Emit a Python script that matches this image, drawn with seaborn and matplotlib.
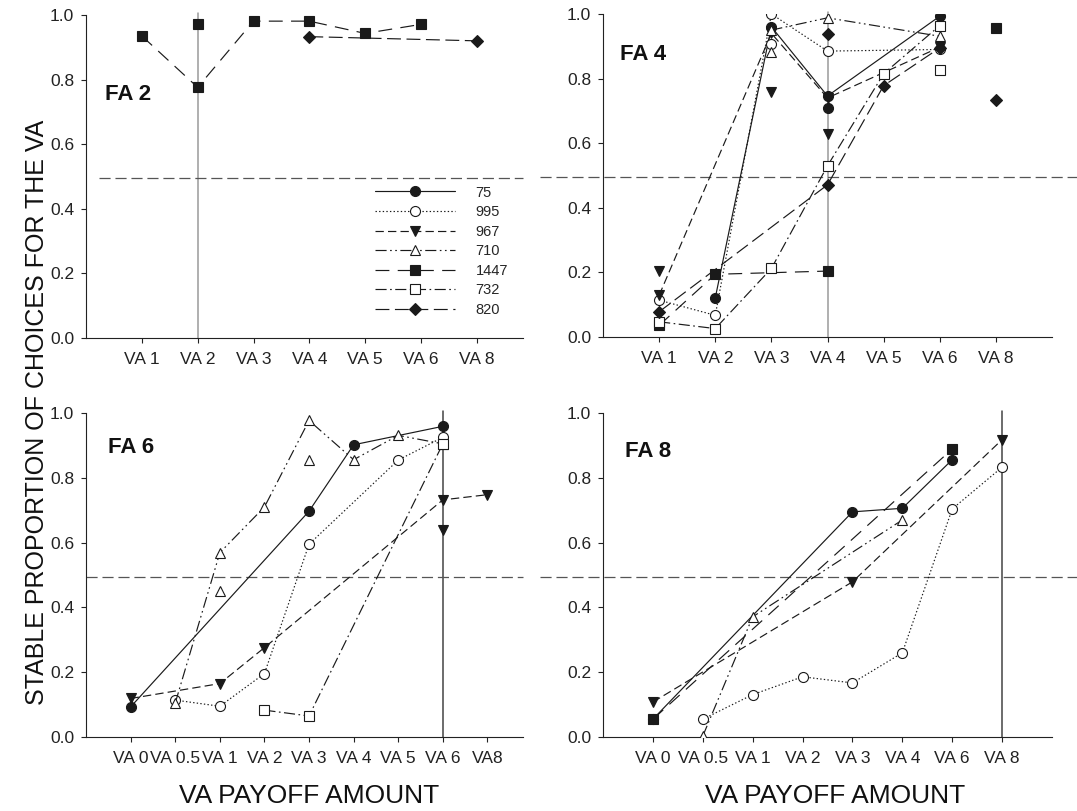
import numpy as np
import seaborn as sns
import matplotlib.pyplot as plt
from matplotlib.lines import Line2D

nan = np.nan

series_names = ['75', '995', '967', '710', '1447', '732', '820']

# FA 2 panel
fa2_cats = ['VA 1', 'VA 2', 'VA 3', 'VA 4', 'VA 5', 'VA 6', 'VA 8']
fa2_lines = {
    '1447': [0.935, 0.776, 0.981, 0.981, 0.943, 0.971, nan],
    '820':  [nan, nan, nan, 0.933, nan, nan, 0.920],
}
fa2_extra = [('1447', 'VA 2', 0.971)]

# FA 4 panel
fa4_cats = ['VA 1', 'VA 2', 'VA 3', 'VA 4', 'VA 5', 'VA 6', 'VA 8']
fa4_lines = {
    '75':   [nan, 0.121, 0.960, 0.746, nan, 0.993, nan],
    '995':  [0.114, 0.067, 1.000, 0.885, nan, 0.890, nan],
    '967':  [0.129, nan, 0.940, 0.740, nan, 0.897, nan],
    '710':  [nan, nan, 0.950, 0.988, nan, 0.931, nan],
    '1447': [0.036, 0.194, nan, 0.204, nan, nan, nan],
    '732':  [0.047, 0.026, 0.212, 0.530, 0.815, 0.964, nan],
    '820':  [0.078, nan, nan, 0.471, 0.778, 0.895, nan],
}
fa4_extra = [('75', 'VA 4', 0.709), ('995', 'VA 3', 0.907),
             ('967', 'VA 1', 0.204), ('967', 'VA 3', 0.759), ('967', 'VA 4', 0.628),
             ('710', 'VA 3', 0.882), ('1447', 'VA 8', 0.955),
             ('732', 'VA 6', 0.825), ('820', 'VA 4', 0.938), ('820', 'VA 8', 0.734)]

# FA 6 panel
fa6_cats = ['VA 0', 'VA 0.5', 'VA 1', 'VA 2', 'VA 3', 'VA 4', 'VA 5', 'VA 6', 'VA8']
fa6_lines = {
    '75':  [0.093, nan, nan, nan, 0.697, 0.902, nan, 0.959, nan],
    '995': [nan, 0.114, 0.095, 0.196, 0.595, nan, 0.855, 0.925, nan],
    '967': [0.119, nan, 0.165, 0.276, nan, nan, nan, 0.732, 0.748],
    '710': [nan, 0.105, 0.569, 0.710, 0.977, 0.856, 0.931, 0.905, nan],
    '732': [nan, nan, nan, 0.083, 0.065, nan, nan, 0.905, nan],
}
fa6_extra = [('967', 'VA 6', 0.639), ('710', 'VA 1', 0.450), ('710', 'VA 3', 0.856)]

# FA 8 panel
fa8_cats = ['VA 0', 'VA 0.5', 'VA 1', 'VA 2', 'VA 3', 'VA 4', 'VA 6', 'VA 8']
fa8_lines = {
    '75':   [0.055, nan, nan, nan, 0.695, 0.706, 0.856, nan],
    '995':  [nan, 0.055, 0.131, 0.186, 0.167, 0.260, 0.704, 0.833],
    '967':  [0.108, nan, nan, nan, 0.479, nan, nan, 0.918],
    '710':  [nan, 0.003, 0.371, nan, nan, 0.670, nan, nan],
    '1447': [0.055, nan, nan, nan, nan, nan, 0.889, nan],
}
fa8_extra = []

criterion = 0.495

# line style, marker, face colour, marker size per subject
styles = {
    '75':   ('-', 'o', 'k', 7.2),
    '995':  ((0, (1, 1.6)), 'o', 'white', 7.2),
    '967':  ((0, (6, 3)), 'v', 'k', 7.6),
    '710':  ((0, (8, 2.5, 1.2, 2.5, 1.2, 2.5)), '^', 'white', 7.6),
    '1447': ((0, (10, 6)), 's', 'k', 6.7),
    '732':  ((0, (8, 2.5, 1.2, 2.5)), 's', 'white', 6.7),
    '820':  ((0, (10, 4)), 'D', 'k', 6.2),
}

sns.set_theme(style='ticks')
plt.rcParams['font.family'] = ['Liberation Sans', 'DejaVu Sans']
plt.rcParams['lines.scale_dashes'] = False

fig = plt.figure(figsize=(10.77, 8.11), dpi=100)

panels = [
    # name, cats, lines, extra, rect, xlim, vline idx, vline colour, hline span, title pos
    ('FA 2', fa2_cats, fa2_lines, fa2_extra, [0.0799, 0.5832, 0.4058, 0.3983], (-1, 6.83), 1, '#9a9a9a', (0.03, 1.0), (0.043, 0.753)),
    ('FA 4', fa4_cats, fa4_lines, fa4_extra, [0.5599, 0.5845, 0.4169, 0.3983], (-1, 7), 3, '#9a9a9a', (-0.14, 1.056), (0.038, 0.875)),
    ('FA 6', fa6_cats, fa6_lines, fa6_extra, [0.0799, 0.0912, 0.4058, 0.3995], (-1, 8.8), 7, '#444444', (0.0, 1.0), (0.05, 0.894)),
    ('FA 8', fa8_cats, fa8_lines, fa8_extra, [0.5599, 0.0912, 0.4169, 0.3995], (-1, 8), 7, '#444444', (-0.14, 1.056), (0.049, 0.881)),
]

for name, cats, lines, extra, rect, xlim, vidx, vcol, hspan, tpos in panels:
    ax = fig.add_axes(rect)
    pos = np.arange(len(cats))

    ax.axvline(vidx, ymin=0, ymax=1.005, color=vcol, lw=1.1, clip_on=False, zorder=1)
    ax.axhline(criterion, xmin=hspan[0], xmax=hspan[1], color='#555555', lw=0.9,
               linestyle=(0, (8, 3.5)), clip_on=False, zorder=1)

    for s in series_names:
        if s not in lines:
            continue
        ys = np.array(lines[s], dtype=float)
        ok = ~np.isnan(ys)
        ls, mk, fc, ms = styles[s]
        sns.lineplot(x=pos[ok], y=ys[ok], ax=ax, color='k', lw=0.85, linestyle=ls,
                     marker=mk, markersize=ms, markerfacecolor=fc, markeredgecolor='k',
                     markeredgewidth=0.8, sort=False, estimator=None, legend=False, zorder=3)

    for s, cat, val in extra:
        ls, mk, fc, ms = styles[s]
        sns.lineplot(x=[cats.index(cat)], y=[val], ax=ax, color='k', linestyle='none',
                     marker=mk, markersize=ms, markerfacecolor=fc, markeredgecolor='k',
                     markeredgewidth=0.8, estimator=None, legend=False, zorder=3)

    ax.set_xlim(*xlim)
    ax.set_ylim(0, 1)
    ax.set_xticks(pos)
    ax.set_xticklabels(cats)
    ax.set_yticks(np.arange(0, 1.01, 0.2))
    ax.set_yticklabels([f'{v:.1f}' for v in np.arange(0, 1.01, 0.2)])
    ax.tick_params(axis='both', direction='out', length=3.5, width=0.8, labelsize=12.5,
                   colors='#222222')
    ax.tick_params(axis='x', pad=6.5)
    ax.tick_params(axis='y', pad=5)
    ax.set_xlabel('')
    ax.set_ylabel('')
    for sp in ['left', 'bottom']:
        ax.spines[sp].set_linewidth(0.8)
        ax.spines[sp].set_color('#222222')
    sns.despine(ax=ax)
    ax.patch.set_alpha(0)

    ax.text(tpos[0], tpos[1], name, transform=ax.transAxes, fontsize=16,
            fontweight='bold', va='center', ha='left', color='#111111')

    if name == 'FA 2':
        handles = []
        for s in series_names:
            ls, mk, fc, ms = styles[s]
            handles.append(Line2D([], [], color='k', lw=0.85, linestyle=ls, marker=mk,
                                  markersize=ms, markerfacecolor=fc, markeredgecolor='k',
                                  markeredgewidth=0.8))
        ax.legend(handles, series_names, loc='upper left', bbox_to_anchor=(0.661, 0.472),
                  frameon=False, borderpad=0, borderaxespad=0, fontsize=10.5,
                  handlelength=5.5, handletextpad=1.4, labelspacing=0.38, numpoints=1)

fig.text(0.034, 0.492, 'STABLE PROPORTION OF CHOICES FOR THE VA', rotation=90,
         ha='center', va='center', fontsize=18, color='#111111')
fig.text(0.287, 0.0185, 'VA PAYOFF AMOUNT', ha='center', va='center', fontsize=19,
         color='#111111')
fig.text(0.775, 0.0185, 'VA PAYOFF AMOUNT', ha='center', va='center', fontsize=19,
         color='#111111')

fig.savefig('out.png', dpi=100)
